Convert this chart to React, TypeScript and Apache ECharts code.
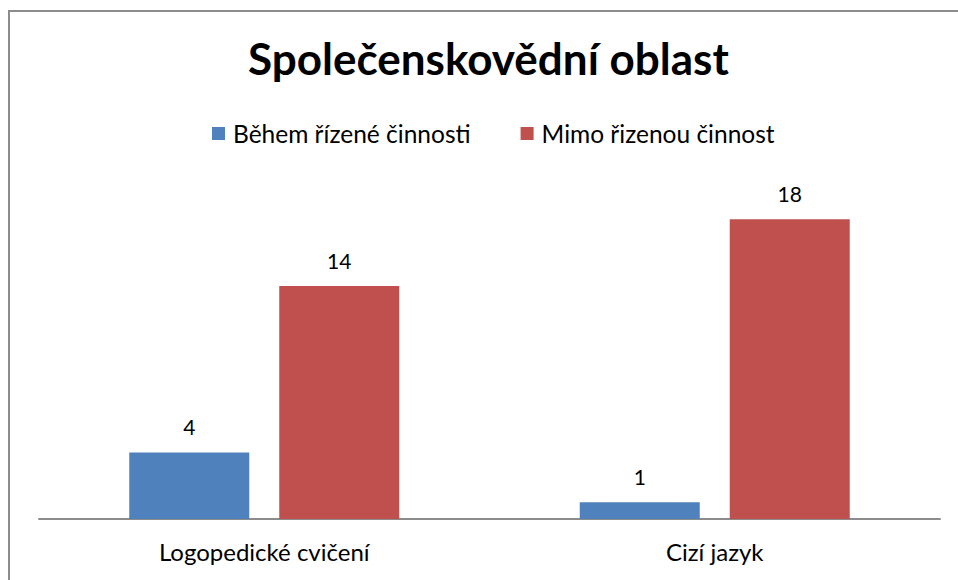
import React, { useEffect, useRef } from "react";
import * as echarts from "echarts";

const categories = ["Logopedické cvičení", "Cizí jazyk"];
const seriesNames = ["Během řízené činnosti", "Mimo řizenou činnost"];
const duringValues = [4, 1];
const outsideValues = [14, 18];
const colors = ["#4F81BD", "#C0504D"];
const titleText = "Společenskovědní oblast";

export default function App() {
  const ref = useRef<HTMLDivElement>(null);
  useEffect(() => {
    if (!ref.current) return;
    const chart = echarts.init(ref.current, null, { renderer: "svg" });
    const font = "Lato, 'Open Sans', sans-serif";
    const labelCfg = {
      show: true,
      position: "top",
      distance: 15,
      color: "#000",
      fontSize: 21,
      fontFamily: font,
    };
    chart.setOption({
      animation: false,
      backgroundColor: "#fff",
      title: {
        text: titleText,
        left: 243,
        top: 31,
        textStyle: { fontFamily: font, fontWeight: "bold", fontSize: 44, color: "#000" },
      },
      legend: {
        top: 116,
        left: 207,
        itemWidth: 13,
        itemHeight: 13,
        itemGap: 50,
        icon: "rect",
        textStyle: { fontFamily: font, fontSize: 24.5, color: "#000", padding: [0, 0, 0, 3] },
        data: seriesNames,
      },
      grid: { left: 39, right: 18, top: 186, bottom: 61 },
      xAxis: {
        type: "category",
        data: categories,
        axisLine: { lineStyle: { color: "#8c8c8c", width: 2 } },
        axisTick: { show: false },
        axisLabel: { color: "#000", fontSize: 24, fontFamily: font, margin: 20 },
      },
      yAxis: {
        type: "value",
        min: 0,
        max: 20,
        show: false,
        splitLine: { show: false },
      },
      graphic: [
        {
          type: "rect",
          shape: { x: 9, y: 11, width: 960, height: 600 },
          style: { fill: "none", stroke: "#8c8c8c", lineWidth: 2 },
          silent: true,
        },
      ],
      series: [
        {
          name: seriesNames[0],
          type: "bar",
          data: duringValues,
          barWidth: 120,
          barGap: "25%",
          itemStyle: { color: colors[0] },
          label: labelCfg,
        },
        {
          name: seriesNames[1],
          type: "bar",
          data: outsideValues,
          barWidth: 120,
          barGap: "25%",
          itemStyle: { color: colors[1] },
          label: labelCfg,
        },
      ],
    });
    return () => chart.dispose();
  }, []);
  return (
    <div
      ref={ref}
      style={{ position: "fixed", left: 0, top: 0, width: 958, height: 580 }}
    />
  );
}
